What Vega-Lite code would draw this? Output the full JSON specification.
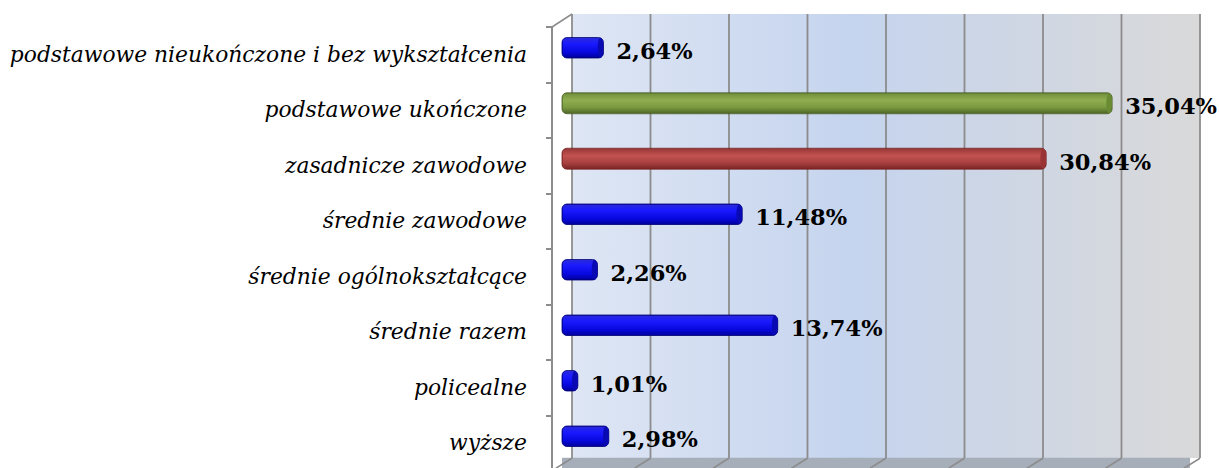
{
  "$schema": "https://vega.github.io/schema/vega-lite/v6.json",
  "width": 628,
  "height": 444,
  "autosize": {"type": "none"},
  "padding": {"left": 562, "top": 14, "right": 29, "bottom": 10},
  "background": "white",
  "config": {
    "view": {"stroke": null},
    "locale": {"number": {"decimal": ",", "thousands": " ", "grouping": [3], "currency": ["", " zł"]}}
  },
  "datasets": {
    "main": [
      {"cat": "podstawowe nieukończone i bez wykształcenia", "value": 0.0264, "grp": "blue"},
      {"cat": "podstawowe ukończone", "value": 0.3504, "grp": "green"},
      {"cat": "zasadnicze zawodowe", "value": 0.3084, "grp": "red"},
      {"cat": "średnie zawodowe", "value": 0.1148, "grp": "blue"},
      {"cat": "średnie ogólnokształcące", "value": 0.0226, "grp": "blue"},
      {"cat": "średnie razem", "value": 0.1374, "grp": "blue"},
      {"cat": "policealne", "value": 0.0101, "grp": "blue"},
      {"cat": "wyższe", "value": 0.0298, "grp": "blue"}
    ],
    "grid": [
      {"g": 0, "cat": "wyższe"}, {"g": 0.05, "cat": "wyższe"}, {"g": 0.1, "cat": "wyższe"}, {"g": 0.15, "cat": "wyższe"}, {"g": 0.2, "cat": "wyższe"}, {"g": 0.25, "cat": "wyższe"}, {"g": 0.3, "cat": "wyższe"}, {"g": 0.35, "cat": "wyższe"}, {"g": 0.4, "cat": "wyższe"}
    ],
    "wall": [{"a": 0, "b": 0.4, "cat": "wyższe"}],
    "corner": [{"g": 0, "cat": "podstawowe nieukończone i bez wykształcenia"}]
  },
  "layer": [
    {
      "data": {"name": "wall"},
      "mark": {
        "type": "rect", "xOffset": 10, "x2Offset": 10,
        "fill": {
          "gradient": "linear", "x1": 0, "y1": 0, "x2": 1, "y2": 0,
          "stops": [
            {"offset": 0, "color": "#dee6f4"},
            {"offset": 0.45, "color": "#c5d4ee"},
            {"offset": 1, "color": "#d9d9d9"}
          ]
        }
      },
      "encoding": {
        "x": {"field": "a", "type": "quantitative", "scale": {"domain": [0, 0.4], "nice": false, "zero": true}, "axis": null},
        "x2": {"field": "b"}
      }
    },
    {
      "data": {"name": "wall"},
      "mark": {"type": "rule", "color": "#a6aeba", "strokeWidth": 11, "yOffset": 33},
      "encoding": {
        "x": {"field": "a", "type": "quantitative"},
        "x2": {"field": "b"},
        "y": {"field": "cat", "type": "nominal"}
      }
    },
    {
      "data": {"name": "grid"},
      "mark": {"type": "rule", "color": "#8c8c8c", "strokeWidth": 1.8, "xOffset": 10},
      "encoding": {
        "x": {"field": "g", "type": "quantitative"}
      }
    },
    {
      "data": {"name": "grid"},
      "mark": {"type": "rule", "color": "#8c8c8c", "strokeWidth": 1.5, "xOffset": 10, "x2Offset": -6, "yOffset": 28, "y2Offset": 38},
      "encoding": {
        "x": {"field": "g", "type": "quantitative"},
        "x2": {"field": "g"},
        "y": {"field": "cat", "type": "nominal"},
        "y2": {"field": "cat"}
      }
    },
    {
      "data": {"name": "corner"},
      "mark": {"type": "rule", "color": "#8c8c8c", "strokeWidth": 1.5, "xOffset": 10, "x2Offset": -10, "yOffset": -27.75, "y2Offset": -14.75},
      "encoding": {
        "x": {"field": "g", "type": "quantitative"},
        "x2": {"field": "g"},
        "y": {"field": "cat", "type": "nominal"},
        "y2": {"field": "cat"}
      }
    },
    {
      "data": {"name": "main"},
      "transform": [{"filter": "datum.grp === 'blue'"}],
      "mark": {
        "type": "bar", "yOffset": 6, "height": 20.5, "cornerRadius": 5,
        "stroke": "#00007a", "strokeWidth": 0.8,
        "fill": {
          "gradient": "linear", "x1": 0, "y1": 0, "x2": 0, "y2": 1,
          "stops": [
            {"offset": 0, "color": "#2a2ad8"},
            {"offset": 0.3, "color": "#1a1aff"},
            {"offset": 0.7, "color": "#0808e0"},
            {"offset": 1, "color": "#00009a"}
          ]
        }
      },
      "encoding": {
        "y": {"field": "cat", "type": "nominal", "sort": null,
          "scale": {"paddingInner": 0, "paddingOuter": 0, "domain": ["podstawowe nieukończone i bez wykształcenia", "podstawowe ukończone", "zasadnicze zawodowe", "średnie zawodowe", "średnie ogólnokształcące", "średnie razem", "policealne", "wyższe"]},
          "axis": {
            "title": null, "orient": "left", "offset": 23, "translate": 13,
            "tickBand": "extent", "domainColor": "#8c8c8c", "domainWidth": 2, "tickColor": "#8c8c8c", "tickWidth": 2, "tickSize": 6,
            "labelFont": "DejaVu Serif", "labelFontStyle": "italic", "labelFontSize": 21.8, "labelColor": "#000000",
            "labelPadding": 19, "labelLimit": 600
          }
        },
        "x": {"field": "value", "type": "quantitative"}
      }
    },
    {
      "data": {"name": "main"},
      "transform": [{"filter": "datum.grp === 'green'"}],
      "mark": {
        "type": "bar", "yOffset": 6, "height": 21, "cornerRadius": 5,
        "stroke": "#4a5f23", "strokeWidth": 0.8,
        "fill": {
          "gradient": "linear", "x1": 0, "y1": 0, "x2": 0, "y2": 1,
          "stops": [
            {"offset": 0, "color": "#6e8c3a"},
            {"offset": 0.35, "color": "#90ae50"},
            {"offset": 0.7, "color": "#7a9a40"},
            {"offset": 1, "color": "#4c6426"}
          ]
        }
      },
      "encoding": {
        "y": {"field": "cat", "type": "nominal", "sort": null},
        "x": {"field": "value", "type": "quantitative"}
      }
    },
    {
      "data": {"name": "main"},
      "transform": [{"filter": "datum.grp === 'red'"}],
      "mark": {
        "type": "bar", "yOffset": 6, "height": 21, "cornerRadius": 5,
        "stroke": "#7a2222", "strokeWidth": 0.8,
        "fill": {
          "gradient": "linear", "x1": 0, "y1": 0, "x2": 0, "y2": 1,
          "stops": [
            {"offset": 0, "color": "#953535"},
            {"offset": 0.35, "color": "#c25350"},
            {"offset": 0.7, "color": "#a84040"},
            {"offset": 1, "color": "#7a2424"}
          ]
        }
      },
      "encoding": {
        "y": {"field": "cat", "type": "nominal", "sort": null},
        "x": {"field": "value", "type": "quantitative"}
      }
    },
    {
      "data": {"name": "main"},
      "mark": {"type": "point", "filled": true, "opacity": 1, "yOffset": 6, "xOffset": -3, "size": 400, "strokeWidth": 0,
        "shape": "M0,-1A0.28,1,0,1,1,0,1A0.28,1,0,1,1,0,-1Z"},
      "encoding": {
        "y": {"field": "cat", "type": "nominal", "sort": null},
        "x": {"field": "value", "type": "quantitative"},
        "color": {"field": "grp", "type": "nominal", "legend": null,
          "scale": {"domain": ["blue", "green", "red"], "range": ["#0a0ab4", "#6a8a34", "#9a3434"]}}
      }
    },
    {
      "data": {"name": "main"},
      "mark": {"type": "text", "align": "left", "baseline": "middle", "dx": 13, "yOffset": 10, "font": "DejaVu Serif", "fontWeight": "bold", "fontSize": 22.5, "color": "#000000"},
      "encoding": {
        "y": {"field": "cat", "type": "nominal", "sort": null},
        "x": {"field": "value", "type": "quantitative"},
        "text": {"field": "value", "type": "quantitative", "format": ".2%"}
      }
    }
  ]
}
